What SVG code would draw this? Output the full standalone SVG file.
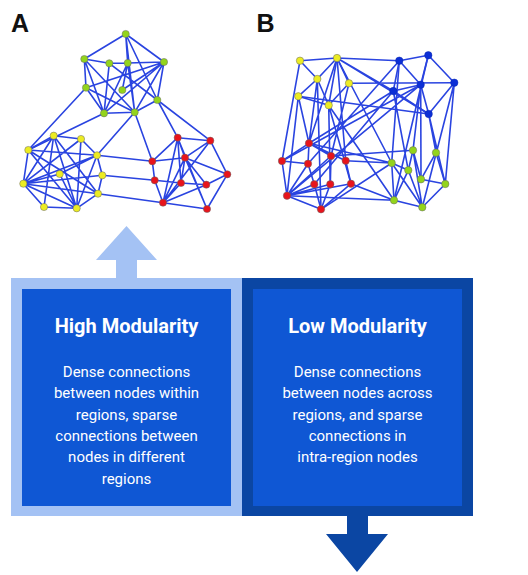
<svg xmlns="http://www.w3.org/2000/svg" width="528" height="575" viewBox="0 0 528 575">
<style>
.e{stroke:#2a44e0;stroke-width:1.6;fill:none}
.n{stroke:#666;stroke-width:0.5}
.g{fill:#93d41c}.y{fill:#ecec22}.r{fill:#e8141c}.b{fill:#0c2fd6;stroke:#0a28b0}
.lab{font-family:"Liberation Sans",Arial,sans-serif;font-weight:bold;font-size:25px;fill:#111}
.t{font-family:Roboto,"Liberation Sans",sans-serif;font-weight:bold;font-size:20px;fill:#fff;text-anchor:middle}
.d{font-family:Roboto,"Liberation Sans",sans-serif;font-size:15px;fill:#fff;text-anchor:middle}
</style>
<rect width="528" height="575" fill="#fff"/>
<text class="lab" x="11" y="31.5">A</text>
<text class="lab" x="256.5" y="31.5">B</text>

<g id="connectors">
<g id="edgesA" class="e">
<path d="M125.7 34L84.3 59M125.7 34L127.7 63M125.7 34L164 62M125.7 34L157.3 100M125.7 34L134.7 112.3M84.3 59L109.3 63.3M109.3 63.3L127.7 63M127.7 63L164 62M84.3 59L86 87.7M84.3 59L104 113.3M84.3 59L134.7 112.3M127.7 63L104 113.3M127.7 63L134.7 112.3M127.7 63L122.3 90M109.3 63.3L104 113.3M109.3 63.3L157.3 100M164 62L104 113.3M164 62L122.3 90M164 62L134.7 112.3M164 62L157.3 100M164 62L86 87.7M86 87.7L104 113.3M86 87.7L134.7 112.3M104 113.3L134.7 112.3M157.3 100L134.7 112.3"/>
<path d="M86 87.7L28.3 150M104 113.3L28.3 150M134.7 112.3L97 155.3M134.7 112.3L152.3 161.3M157.3 100L177.7 137.7M157.3 100L210.3 140.7M97 155.3L152.3 161.3M102.3 175.3L154.7 180.3M98 193.7L163 202.7"/>
<path d="M53.7 135.7L81 139M53.7 135.7L28.3 150M53.7 135.7L23.3 183.7M53.7 135.7L44 207M53.7 135.7L76.7 208.3M53.7 135.7L98 193.7M81 139L97 155.3M81 139L76.7 208.3M81 139L23.3 183.7M28.3 150L97 155.3M28.3 150L23.3 183.7M28.3 150L76.7 208.3M28.3 150L98 193.7M97 155.3L102.3 175.3M97 155.3L23.3 183.7M97 155.3L59.7 174M97 155.3L76.7 208.3M102.3 175.3L98 193.7M23.3 183.7L102.3 175.3M23.3 183.7L98 193.7M23.3 183.7L44 207M23.3 183.7L76.7 208.3M23.3 183.7L59.7 174M98 193.7L76.7 208.3M44 207L76.7 208.3M59.7 174L76.7 208.3"/>
<path d="M177.7 137.7L210.3 140.7M177.7 137.7L152.3 161.3M177.7 137.7L185 157.7M177.7 137.7L163 202.7M177.7 137.7L181 183M177.7 137.7L207 209M210.3 140.7L185 157.7M210.3 140.7L227.3 174.3M210.3 140.7L163 202.7M185 157.7L152.3 161.3M185 157.7L227.3 174.3M185 157.7L181 183M185 157.7L163 202.7M185 157.7L207 209M185 157.7L206.3 184.7M152.3 161.3L154.7 180.3M154.7 180.3L181 183M154.7 180.3L163 202.7M181 183L206.3 184.7M181 183L163 202.7M206.3 184.7L227.3 174.3M206.3 184.7L163 202.7M163 202.7L207 209M227.3 174.3L207 209"/>
</g>
<g id="edgesB" class="e">
<path d="M300 60.7L337 58M300 60.7L317.3 79M337 58L317.3 79M337 58L349 83.3M317.3 79L298.3 96.3M317.3 79L328.7 105.3M298.3 96.3L328.7 105.3M337 58L328.7 105.3M349 83.3L328.7 105.3"/>
<path d="M337 58L399.3 60.7M337 58L393.3 91M349 83.3L454.3 82.7M298.3 96.3L428.7 114M337 58L428.7 114M300 60.7L282 161M298.3 96.3L309 143.3M317.3 79L309 143.3M337 58L309 143.3M337 58L345.7 160.7M328.7 105.3L351 183.7M328.7 105.3L330.3 184.3M298.3 96.3L287 195.7M349 83.3L331 156M328.7 105.3L394 200.3M317.3 79L321 209.3M337 58L391.7 163"/>
<path d="M399.3 60.7L428.3 55.3M428.3 55.3L454.3 82.7M428.3 55.3L420.7 84.7M399.3 60.7L393.3 91M420.7 84.7L393.3 91M420.7 84.7L428.7 114M393.3 91L428.7 114M399.3 60.7L420.7 84.7M454.3 82.7L428.7 114"/>
<path d="M399.3 60.7L391.7 163M420.7 84.7L413 150.3M420.7 84.7L421 179.3M454.3 82.7L445.3 184M393.3 91L408.3 170.3M428.7 114L445.3 184M428.7 114L436 152.7M420.7 84.7L282 161M393.3 91L309 143.3M399.3 60.7L308 163.7M393.3 91L314.3 184.3M420.7 84.7L287 195.7M428.3 55.3L394 200.3M454.3 82.7L422.3 207.3"/>
<path d="M309 143.3L282 161M309 143.3L331 156M309 143.3L345.7 160.7M282 161L287 195.7M282 161L308 163.7M308 163.7L287 195.7M308 163.7L314.3 184.3M314.3 184.3L287 195.7M331 156L330.3 184.3M345.7 160.7L351 183.7M287 195.7L321 209.3M314.3 184.3L321 209.3M330.3 184.3L321 209.3M351 183.7L321 209.3M287 195.7L330.3 184.3M287 195.7L351 183.7M309 143.3L308 163.7M287 195.7L331 156"/>
<path d="M309 143.3L391.7 163M345.7 160.7L391.7 163M351 183.7L394 200.3M287 195.7L394 200.3M321 209.3L391.7 163M331 156L413 150.3"/>
<path d="M391.7 163L408.3 170.3M391.7 163L394 200.3M408.3 170.3L394 200.3M408.3 170.3L422.3 207.3M413 150.3L408.3 170.3M413 150.3L421 179.3M436 152.7L421 179.3M436 152.7L445.3 184M421 179.3L445.3 184M394 200.3L422.3 207.3M422.3 207.3L445.3 184M391.7 163L422.3 207.3M413 150.3L422.3 207.3"/>
</g>
</g>

<g id="graphA">
<g id="a-g1"><circle class="n g" cx="125.7" cy="34" r="3.6"/></g>
<g id="a-g2"><circle class="n g" cx="84.3" cy="59" r="3.6"/></g>
<g id="a-g3"><circle class="n g" cx="109.3" cy="63.3" r="3.6"/></g>
<g id="a-g4"><circle class="n g" cx="127.7" cy="63" r="3.6"/></g>
<g id="a-g5"><circle class="n g" cx="164" cy="62" r="3.6"/></g>
<g id="a-g6"><circle class="n g" cx="86" cy="87.7" r="3.6"/></g>
<g id="a-g7"><circle class="n g" cx="122.3" cy="90" r="3.6"/></g>
<g id="a-g8"><circle class="n g" cx="157.3" cy="100" r="3.6"/></g>
<g id="a-g9"><circle class="n g" cx="104" cy="113.3" r="3.6"/></g>
<g id="a-g10"><circle class="n g" cx="134.7" cy="112.3" r="3.6"/></g>
<g id="a-y1"><circle class="n y" cx="53.7" cy="135.7" r="3.6"/></g>
<g id="a-y2"><circle class="n y" cx="81" cy="139" r="3.6"/></g>
<g id="a-y3"><circle class="n y" cx="28.3" cy="150" r="3.6"/></g>
<g id="a-y4"><circle class="n y" cx="97" cy="155.3" r="3.6"/></g>
<g id="a-y5"><circle class="n y" cx="59.7" cy="174" r="3.6"/></g>
<g id="a-y6"><circle class="n y" cx="102.3" cy="175.3" r="3.6"/></g>
<g id="a-y7"><circle class="n y" cx="23.3" cy="183.7" r="3.6"/></g>
<g id="a-y8"><circle class="n y" cx="98" cy="193.7" r="3.6"/></g>
<g id="a-y9"><circle class="n y" cx="44" cy="207" r="3.6"/></g>
<g id="a-y10"><circle class="n y" cx="76.7" cy="208.3" r="3.6"/></g>
<g id="a-r1"><circle class="n r" cx="177.7" cy="137.7" r="3.6"/></g>
<g id="a-r2"><circle class="n r" cx="210.3" cy="140.7" r="3.6"/></g>
<g id="a-r3"><circle class="n r" cx="185" cy="157.7" r="3.6"/></g>
<g id="a-r4"><circle class="n r" cx="152.3" cy="161.3" r="3.6"/></g>
<g id="a-r5"><circle class="n r" cx="227.3" cy="174.3" r="3.6"/></g>
<g id="a-r6"><circle class="n r" cx="154.7" cy="180.3" r="3.6"/></g>
<g id="a-r7"><circle class="n r" cx="181" cy="183" r="3.6"/></g>
<g id="a-r8"><circle class="n r" cx="206.3" cy="184.7" r="3.6"/></g>
<g id="a-r9"><circle class="n r" cx="163" cy="202.7" r="3.6"/></g>
<g id="a-r10"><circle class="n r" cx="207" cy="209" r="3.6"/></g>
</g>

<g id="graphB">
<g id="b-y1"><circle class="n y" cx="300" cy="60.7" r="3.7"/></g>
<g id="b-y2"><circle class="n y" cx="337" cy="58" r="3.7"/></g>
<g id="b-y3"><circle class="n y" cx="317.3" cy="79" r="3.7"/></g>
<g id="b-y4"><circle class="n y" cx="349" cy="83.3" r="3.7"/></g>
<g id="b-y5"><circle class="n y" cx="298.3" cy="96.3" r="3.7"/></g>
<g id="b-y6"><circle class="n y" cx="328.7" cy="105.3" r="3.7"/></g>
<g id="b-b1"><circle class="n b" cx="399.3" cy="60.7" r="3.7"/></g>
<g id="b-b2"><circle class="n b" cx="428.3" cy="55.3" r="3.7"/></g>
<g id="b-b3"><circle class="n b" cx="454.3" cy="82.7" r="3.7"/></g>
<g id="b-b4"><circle class="n b" cx="420.7" cy="84.7" r="3.7"/></g>
<g id="b-b5"><circle class="n b" cx="393.3" cy="91" r="3.7"/></g>
<g id="b-b6"><circle class="n b" cx="428.7" cy="114" r="3.7"/></g>
<g id="b-r1"><circle class="n r" cx="309" cy="143.3" r="3.7"/></g>
<g id="b-r2"><circle class="n r" cx="282" cy="161" r="3.7"/></g>
<g id="b-r3"><circle class="n r" cx="331" cy="156" r="3.7"/></g>
<g id="b-r4"><circle class="n r" cx="345.7" cy="160.7" r="3.7"/></g>
<g id="b-r5"><circle class="n r" cx="308" cy="163.7" r="3.7"/></g>
<g id="b-r6"><circle class="n r" cx="314.3" cy="184.3" r="3.7"/></g>
<g id="b-r7"><circle class="n r" cx="330.3" cy="184.3" r="3.7"/></g>
<g id="b-r8"><circle class="n r" cx="351" cy="183.7" r="3.7"/></g>
<g id="b-r9"><circle class="n r" cx="287" cy="195.7" r="3.7"/></g>
<g id="b-r10"><circle class="n r" cx="321" cy="209.3" r="3.7"/></g>
<g id="b-g1"><circle class="n g" cx="413" cy="150.3" r="3.7"/></g>
<g id="b-g2"><circle class="n g" cx="436" cy="152.7" r="3.7"/></g>
<g id="b-g3"><circle class="n g" cx="391.7" cy="163" r="3.7"/></g>
<g id="b-g4"><circle class="n g" cx="408.3" cy="170.3" r="3.7"/></g>
<g id="b-g5"><circle class="n g" cx="421" cy="179.3" r="3.7"/></g>
<g id="b-g6"><circle class="n g" cx="445.3" cy="184" r="3.7"/></g>
<g id="b-g7"><circle class="n g" cx="394" cy="200.3" r="3.7"/></g>
<g id="b-g8"><circle class="n g" cx="422.3" cy="207.3" r="3.7"/></g>
</g>

<g id="high">
<polygon fill="#a4c2f4" points="126.5,226 157,260 137,260 137,278 242,278 242,516 11,516 11,278 116,278 116,260 96,260"/>
<rect x="22" y="289" width="209" height="217" fill="#0f57d4"/>
<text class="t" x="126.5" y="333">High Modularity</text>
<text class="d" x="126.5"><tspan x="126.5" y="377">Dense connections</tspan><tspan x="126.5" y="398.3">between nodes within</tspan><tspan x="126.5" y="419.6">regions, sparse</tspan><tspan x="126.5" y="440.9">connections between</tspan><tspan x="126.5" y="462.2">nodes in different</tspan><tspan x="126.5" y="483.5">regions</tspan></text>
</g>
<g id="low">
<polygon fill="#0b46a3" points="242,278 473,278 473,516 368,516 368,534 388,534 357,572 326,534 347,534 347,516 242,516"/>
<rect x="253" y="289" width="209" height="217" fill="#0f57d4"/>
<text class="t" x="357.5" y="333">Low Modularity</text>
<text class="d" x="357.5"><tspan x="357.5" y="377">Dense connections</tspan><tspan x="357.5" y="398.3">between nodes across</tspan><tspan x="357.5" y="419.6">regions, and sparse</tspan><tspan x="357.5" y="440.9">connections in</tspan><tspan x="357.5" y="462.2">intra-region nodes</tspan></text>
</g>
</svg>
